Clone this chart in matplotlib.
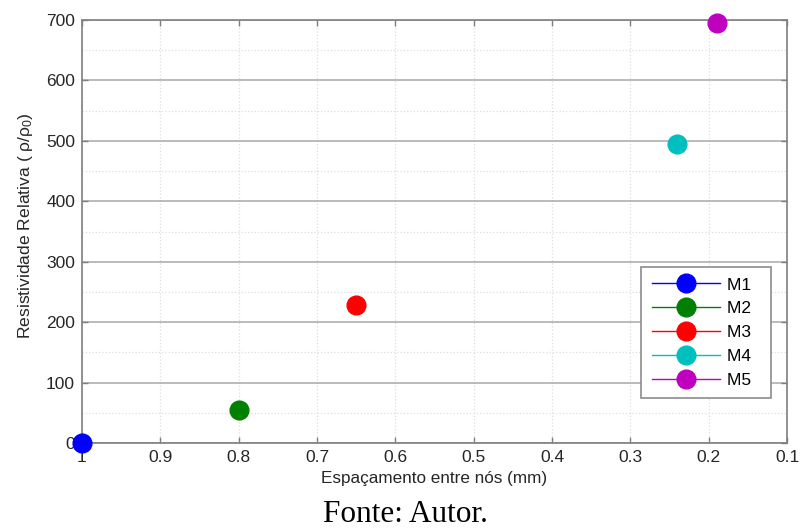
import matplotlib
matplotlib.use("Agg")
import matplotlib.pyplot as plt
from matplotlib.ticker import MultipleLocator

plt.rcParams['font.family'] = ['Liberation Sans', 'DejaVu Sans']
plt.rcParams['mathtext.fontset'] = 'custom'
plt.rcParams['mathtext.rm'] = 'Liberation Sans'
plt.rcParams['mathtext.it'] = 'Liberation Sans'

# data
names = ['M1', 'M2', 'M3', 'M4', 'M5']
espacamento = [1.0, 0.8, 0.65, 0.24, 0.19]      # mm
resistividade = [0, 55, 228, 494, 695]          # rho/rho0
cores = ['b', 'g', 'r', 'c', 'm']
xticks = [1, 0.9, 0.8, 0.7, 0.6, 0.5, 0.4, 0.3, 0.2, 0.1]
xticklabels = ['1', '0.9', '0.8', '0.7', '0.6', '0.5', '0.4', '0.3', '0.2', '0.1']

fig = plt.figure(figsize=(8.01, 5.28), dpi=100)
ax = fig.add_axes([82 / 801, 1 - 443 / 528, 705 / 801, 423 / 528])

for n, x, y, c in zip(names, espacamento, resistividade, cores):
    # trailing spaces only widen the legend box on the right
    ax.plot([x], [y], '-o', color=c, lw=1, markersize=13.5, label=n + '  ',
            clip_on=False, zorder=5)

ax.set_xlim(1, 0.1)
ax.set_ylim(0, 700)
ax.set_xticks(xticks)
ax.set_xticklabels(xticklabels)
ax.yaxis.set_major_locator(MultipleLocator(100))
ax.yaxis.set_minor_locator(MultipleLocator(50))

# grid: solid darker horizontal majors, light dotted elsewhere
ax.grid(axis='y', which='major', color='#a8a8a8', lw=1.1, ls='-')
ax.grid(axis='y', which='minor', color='#dedede', lw=0.9, ls=':')
ax.grid(axis='x', which='major', color='#dedede', lw=0.9, ls=':')
ax.set_axisbelow(True)

for sp in ax.spines.values():
    sp.set_color('#7f7f7f')
    sp.set_linewidth(1.2)

ax.tick_params(which='major', direction='in', top=True, right=True,
               length=4, width=1, color='#7f7f7f', labelsize=12.5,
               labelcolor='#262626', pad=5)
ax.tick_params(which='minor', length=0)

ax.set_xlabel('Espaçamento entre nós (mm)', fontsize=12.3, color='#262626',
              labelpad=4)
ax.set_ylabel('Resistividade Relativa ( ρ/ρ$_0$)', fontsize=12.6,
              color='#262626')
ax.yaxis.set_label_coords(-0.066, 0.515)

leg = ax.legend(loc='lower right', bbox_to_anchor=(0.978, 0.1057),
                fontsize=12.5, handlelength=3.95, labelspacing=0.5,
                fancybox=False, framealpha=1, edgecolor='#8c8c8c',
                borderpad=0.6, handletextpad=0.4, borderaxespad=0)
leg.get_frame().set_linewidth(1.2)

fig.text(405 / 801, 1 - 521.5 / 528, 'Fonte: Autor.', family='Liberation Serif',
         fontsize=22.5, ha='center', va='baseline')

fig.savefig('out.png', dpi=100)
